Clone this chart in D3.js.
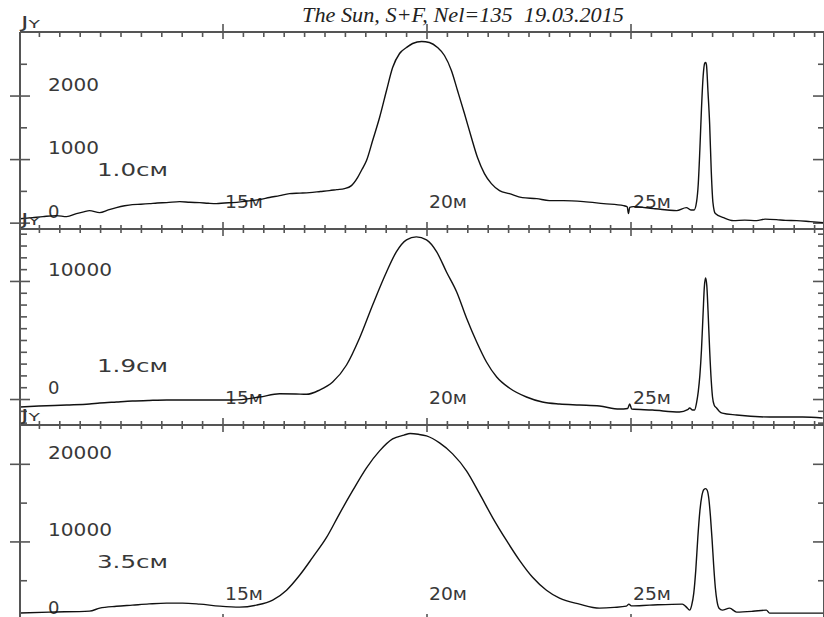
<!DOCTYPE html>
<html>
<head>
<meta charset="utf-8">
<script src="https://cdn.jsdelivr.net/npm/d3@7"></script>
<style>
  html, body { margin: 0; padding: 0; background: #fff; }
  svg { display: block; }
  .frame { stroke: #555; stroke-width: 2; fill: none; }
  .tick line { stroke: #555; stroke-width: 1.6; }
  .trace { fill: none; stroke: #111; stroke-width: 1.4; stroke-linejoin: round; }
  .lbl { font-family: "DejaVu Sans", sans-serif; fill: #383838; }
  .title { font-family: "Liberation Serif", "Times New Roman", serif; font-style: italic; fill: #222; white-space: pre; }
</style>
</head>
<body>
<svg id="chart" width="824" height="617"></svg>
<script>
// ---- text ----
const titleText = "The Sun, S+F, Nel=135  19.03.2015";
const bandLabels = ["1.0см", "1.9см", "3.5см"];
const unitLabel = "Jy";
const minuteTicks = [15, 20, 25];
const minuteLabels = ["15м", "20м", "25м"];

// ---- y axis ticks per band ----
const yMajor1 = [0, 1000, 2000];
const yMinor1 = [500, 1500, 2500];
const yTickLabels1 = ["0", "1000", "2000"];
const yMajor2 = [0, 10000];
const yMinor2 = [-2000, -1000, 1000, 2000, 3000, 4000, 5000, 6000, 7000, 8000, 9000, 11000, 12000, 13000, 14000];
const yTickLabels2 = ["0", "10000"];
const yMajor3 = [0, 10000, 20000];
const yMinor3 = [5000, 15000];
const yTickLabels3 = ["0", "10000", "20000"];

// ---- scan at 1.0 cm: time (min), flux (Jy) ----
const t1 = [10.00, 10.34, 10.60, 10.93, 11.18, 11.42, 11.60, 11.74, 11.99, 12.20, 12.40, 12.60, 12.79, 13.00,
  13.21, 13.40, 13.63, 13.95, 14.20, 14.44, 14.65, 14.85, 15.05, 15.25, 15.60, 15.91, 16.15, 16.40,
  16.64, 16.90, 17.13, 17.40, 17.62, 17.80, 17.99, 18.16, 18.31, 18.42, 18.53, 18.68, 18.85, 19.02,
  19.17, 19.34, 19.51, 19.66, 19.88, 20.07, 20.27, 20.44, 20.61, 20.76, 20.93, 21.10, 21.25, 21.42,
  21.59, 21.79, 22.03, 22.35, 22.70, 23.01, 23.36, 23.85, 24.34, 24.83, 24.92, 24.95, 24.98, 25.07,
  25.56, 25.90, 26.13, 26.37, 26.48, 26.56, 26.62, 26.66, 26.70, 26.74, 26.78, 26.82, 26.84, 26.86,
  26.90, 26.94, 26.98, 27.02, 27.08, 27.28, 27.52, 27.80, 28.09, 28.30, 28.58, 28.80, 29.07, 29.41, 29.73];
const jy1 = [60, 79, 95, 110, 94, 142, 170, 189, 158, 200, 236, 265, 284, 290,
  299, 310, 315, 331, 320, 315, 305, 299, 310, 315, 340, 362, 395, 425,
  457, 465, 473, 490, 504, 520, 536, 583, 709, 840, 977, 1292, 1654, 2079,
  2441, 2662, 2756, 2819, 2851, 2835, 2756, 2630, 2394, 2079, 1717, 1339, 1024, 772,
  614, 504, 457, 394, 378, 347, 347, 331, 299, 268, 250, 142, 240, 252,
  220, 200, 189, 236, 200, 200, 330, 600, 1150, 1800, 2300, 2510, 2520, 2490,
  2050, 1550, 800, 320, 142, 79, 32, 40, 32, 55, 47, 35, 32, 16, 0];

// ---- scan at 1.9 cm ----
const t2 = [10.00, 10.50, 11.18, 11.74, 11.99, 12.40, 12.79, 13.20, 13.63, 14.44, 15.25, 15.91, 16.40, 16.80,
  17.06, 17.38, 17.70, 18.04, 18.36, 18.68, 19.02, 19.26, 19.51, 19.75, 20.00, 20.25, 20.49, 20.74,
  20.98, 21.23, 21.47, 21.72, 22.03, 22.45, 22.84, 23.26, 23.75, 24.24, 24.73, 24.93, 24.98, 25.03,
  25.54, 26.20, 26.40, 26.45, 26.52, 26.57, 26.62, 26.66, 26.70, 26.74, 26.78, 26.81, 26.84, 26.87,
  26.90, 26.94, 26.98, 27.01, 27.05, 27.11, 27.18, 27.25, 27.60, 28.41, 29.22, 29.71];
const jy2 = [-680, -593, -508, -424, -339, -250, -170, -120, -85, -85, -85, 170, 450, 430,
  400, 763, 1441, 2882, 5170, 7967, 10763, 12458, 13475, 13730, 13475, 12458, 10763, 9068,
  6865, 4831, 3136, 1865, 932, 170, -254, -424, -508, -593, -848, -800, -424, -848,
  -932, -1102, -900, -763, -932, -930, -300, 600, 2000, 4200, 7300, 9500, 10250, 9600,
  7500, 4150, 1500, 170, -500, -763, -1050, -1190, -1356, -1526, -1526, -1610];

// ---- scan at 3.5 cm ----
const t3 = [10.00, 10.76, 11.74, 11.99, 12.40, 12.79, 13.20, 13.63, 14.02, 14.44, 14.93, 15.42, 15.83, 16.23,
  16.57, 16.89, 17.21, 17.55, 17.87, 18.19, 18.53, 18.85, 19.17, 19.45, 19.60, 19.80, 20.00, 20.32,
  20.64, 20.98, 21.30, 21.62, 21.96, 22.28, 22.60, 22.94, 23.26, 23.75, 24.24, 24.60, 24.90, 24.96,
  25.02, 25.47, 26.27, 26.37, 26.45, 26.50, 26.55, 26.60, 26.65, 26.70, 26.75, 26.80, 26.84, 26.88,
  26.92, 26.96, 27.00, 27.04, 27.08, 27.12, 27.17, 27.25, 27.43, 27.60, 28.00, 28.33, 28.41, 29.14, 29.73];
const jy3 = [769, 897, 1026, 1410, 1650, 1795, 1950, 2051, 2051, 1923, 1667, 1538, 1795, 2436,
  3718, 5641, 7948, 10512, 13589, 16538, 19486, 21666, 23204, 23700, 23900, 23800, 23589, 22691,
  21281, 19102, 16153, 13076, 10128, 7564, 5384, 3718, 2692, 1923, 1410, 1500, 1667, 1923,
  1700, 1795, 1923, 1538, 1154, 1800, 3300, 6300, 10500, 13900, 15900, 16700, 16800, 16600,
  15500, 13200, 10200, 6800, 4000, 2300, 1400, 1154, 1410, 897, 1000, 1154, 769, 769, 769];

// ---- layout ----
const frameL = 20, frameR = 824;
const edges = [32, 229, 425, 621];          // panel borders, top to bottom
const yDomains = [[-100, 3000], [-2200, 14400], [-250, 25000]];

const panels = [
  { t: t1, v: jy1, major: yMajor1, minor: yMinor1, labels: yTickLabels1, band: bandLabels[0] },
  { t: t2, v: jy2, major: yMajor2, minor: yMinor2, labels: yTickLabels2, band: bandLabels[1] },
  { t: t3, v: jy3, major: yMajor3, minor: yMinor3, labels: yTickLabels3, band: bandLabels[2] }
];

const svg = d3.select("#chart");
const x = d3.scaleLinear().domain([10, 30]).range([18.5, 834.5]);

svg.append("defs").append("clipPath").attr("id", "plotClip")
  .append("rect").attr("x", frameL).attr("y", edges[0])
  .attr("width", frameR - frameL).attr("height", edges[3] - edges[0]);

// time ticks every half minute, longer every five minutes
const xTicks = d3.range(10, 30.001, 0.5).filter(t => x(t) > frameL + 1 && x(t) < frameR - 1);
const xMajor = xTicks.filter(t => t % 5 === 0);
const xMinor = xTicks.filter(t => t % 5 !== 0);

function xRow(yPos, down, values, size) {
  svg.append("g")
    .attr("transform", `translate(0,${yPos})`)
    .call((down ? d3.axisBottom(x) : d3.axisTop(x)).tickValues(values).tickSize(size).tickFormat(""))
    .call(g => g.select(".domain").remove());
}

edges.forEach((e, i) => {
  if (i < edges.length - 1) {           // top edge of a panel: ticks pointing in
    xRow(e, true, xMinor, i === 0 ? 5 : 4);
    xRow(e, true, xMajor, 7);
  }
  if (i > 0) {                          // bottom edge of a panel: ticks pointing up
    xRow(e, false, xMinor, 4);
    xRow(e, false, xMajor, 7);
  }
  if (i === 0) xRow(e, false, xMajor, 8);
});

panels.forEach((p, i) => {
  const top = edges[i], bottom = edges[i + 1];
  const y = d3.scaleLinear().domain(yDomains[i]).range([bottom, top]);

  // left axis: major ticks cross the line, minor ticks point in
  svg.append("g").attr("transform", `translate(${frameL},0)`)
    .call(d3.axisLeft(y).tickValues(p.major).tickSize(10).tickFormat(""))
    .call(g => g.select(".domain").remove());
  svg.append("g").attr("transform", `translate(${frameL},0)`)
    .call(d3.axisRight(y).tickValues(p.major).tickSize(10).tickFormat(""))
    .call(g => g.select(".domain").remove());
  svg.append("g").attr("transform", `translate(${frameL},0)`)
    .call(d3.axisRight(y).tickValues(p.minor).tickSize(7).tickFormat(""))
    .call(g => g.select(".domain").remove());

  // right axis: ticks point in
  svg.append("g").attr("transform", `translate(${frameR},0)`)
    .call(d3.axisLeft(y).tickValues(p.major).tickSize(11).tickFormat(""))
    .call(g => g.select(".domain").remove());
  svg.append("g").attr("transform", `translate(${frameR},0)`)
    .call(d3.axisLeft(y).tickValues(p.minor).tickSize(6).tickFormat(""))
    .call(g => g.select(".domain").remove());

  // flux labels written inside the frame, just above their ticks
  p.major.forEach((v, k) => {
    const s = p.labels[k];
    const tx = svg.append("text").attr("class", "lbl")
      .attr("x", 48).attr("y", y(v) - 5)
      .style("font-size", "18px").text(s);
    if (s.length > 1) tx.attr("textLength", 13 * s.length - 1).attr("lengthAdjust", "spacingAndGlyphs");
  });

  // wavelength of the scan
  svg.append("text").attr("class", "lbl")
    .attr("x", 97).attr("y", bottom - 53)
    .style("font-size", "17px")
    .attr("textLength", 71).attr("lengthAdjust", "spacingAndGlyphs")
    .text(p.band);

  // minute marks
  minuteTicks.forEach((m, k) => {
    svg.append("text").attr("class", "lbl")
      .attr("x", x(m) + 2.5).attr("y", bottom - 21)
      .style("font-size", "17px")
      .attr("textLength", 38).attr("lengthAdjust", "spacingAndGlyphs")
      .text(minuteLabels[k]);
  });

  // unit above the top-left corner
  svg.append("text").attr("class", "lbl")
    .attr("x", 21).attr("y", top - 4)
    .style("font-size", "15px").style("font-variant", "small-caps")
    .attr("textLength", 19).attr("lengthAdjust", "spacingAndGlyphs")
    .text(unitLabel);

  // the scan itself
  const line = d3.line()
    .x((d, k) => x(p.t[k]))
    .y(d => y(d))
    .curve(d3.curveMonotoneX);
  svg.append("path").attr("class", "trace")
    .attr("clip-path", "url(#plotClip)")
    .attr("d", line(p.v));
});

// frame: outer box and the borders between panels
edges.forEach(e => {
  svg.append("line").attr("class", "frame")
    .attr("x1", frameL).attr("x2", frameR).attr("y1", e).attr("y2", e);
});
svg.append("line").attr("class", "frame")
  .attr("x1", frameL).attr("x2", frameL).attr("y1", edges[0]).attr("y2", edges[3]);
svg.append("line").attr("class", "frame")
  .attr("x1", frameR).attr("x2", frameR).attr("y1", edges[0]).attr("y2", edges[3]);

// title
svg.append("text").attr("class", "title")
  .attr("x", 302).attr("y", 22)
  .attr("xml:space", "preserve")
  .style("font-size", "20px")
  .attr("textLength", 322).attr("lengthAdjust", "spacingAndGlyphs")
  .text(titleText);
</script>
</body>
</html>
